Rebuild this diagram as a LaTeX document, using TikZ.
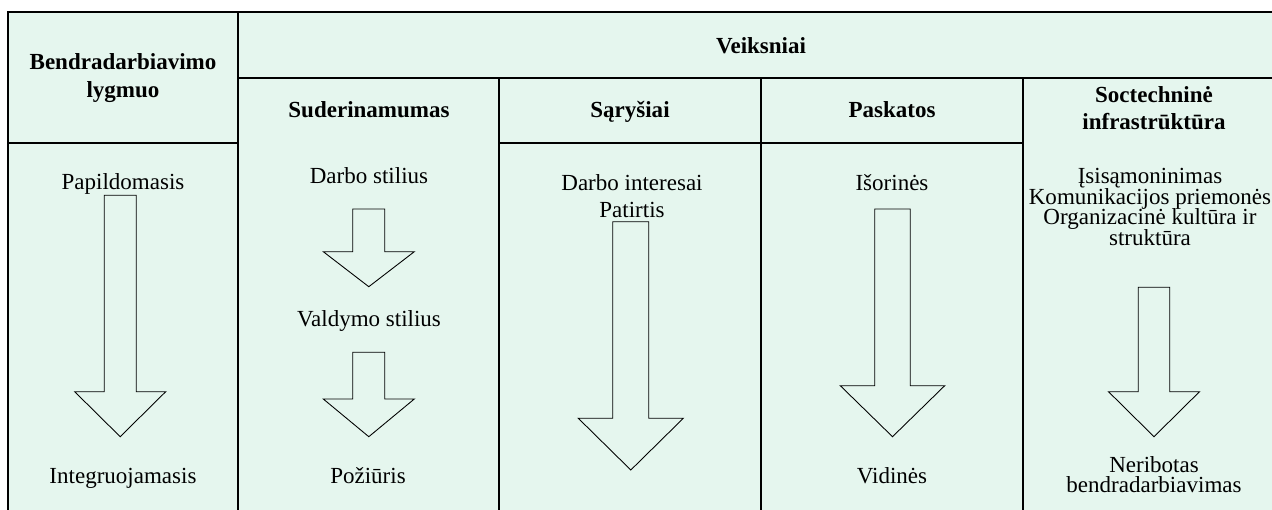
\documentclass[tikz,border=0pt]{standalone}
\usepackage{fontspec}
\setmainfont{Liberation Serif}
\usetikzlibrary{positioning}
\definecolor{cellbg}{RGB}{229,246,238}
\tikzset{
  every node/.style={text=black, font=\fontsize{13.1}{15.2}\selectfont, align=center, anchor=base, inner sep=0pt},
  grid/.style={draw=black, line width=0.7pt},
  colhead/.style={font=\bfseries\fontsize{13.1}{15.6}\selectfont},
  tight/.style={font={\fontsize{13.1}{11.6}\selectfont\lineskiplimit=-20pt}},
  blockarr/.style={draw=black, line width=0.5pt, line join=miter}
}
% block arrow: x, top, head base, tip, half shaft, half head
\newcommand{\blockarrow}[6]{%
  \draw[blockarr] ({#1-#5},#2) -- ({#1+#5},#2) -- ({#1+#5},#3) -- ({#1+#6},#3)
    -- (#1,#4) -- ({#1-#6},#3) -- ({#1-#5},#3) -- cycle;}

\begin{document}
\begin{tikzpicture}[x=0.02cm, y=-0.02cm]
  \useasboundingbox (0,0) rectangle (1272,510);
  % Table
  \fill[cellbg] (8,12) rectangle (1272,510);
  \draw[grid] (8,510) -- (8,12) -- (1272,12);
  \draw[grid] (238,12) -- (238,510);
  \draw[grid] (238,78) -- (1272,78);
  \draw[grid] (8,143) -- (238,143);
  \draw[grid] (499,143) -- (1023,143);
  \foreach \x in {499,761,1023}
    \draw[grid] (\x,78) -- (\x,510);

  % Headers (multi-line nodes sit on their last baseline)
  \node[colhead] (level) at (123,97.3) {Bendradarbiavimo\\lygmuo};
  \node[colhead] (factors) at (761,53.3) {Veiksniai};
  \node[colhead] (compat) at (369,118) {Suderinamumas};
  \node[colhead] (links) at (630,118) {Sąryšiai};
  \node[colhead] (incent) at (892,118) {Paskatos};
  \node[colhead] (infra) at (1154,130) {Soctechninė\\infrastrūktūra};

  % Nodes
  \node (suppl) at (123,190) {Papildomasis};
  \node (integr) at (123,483) {Integruojamasis};
  \node (workstyle) at (369,183.3) {Darbo stilius};
  \node (mgmtstyle) at (369,326.7) {Valdymo stilius};
  \node (attitude) at (368,483.3) {Požiūris};
  \node (interest) at (632,217.3) {Darbo interesai\\Patirtis};
  \node (outer) at (892,190.7) {Išorinės};
  \node (inner) at (892,483) {Vidinės};
  \node[tight] (aware) at (1150,245) {Įsisąmoninimas\\Komunikacijos priemonės\\Organizacinė kultūra ir\\struktūra};
  \node[tight] (unlim) at (1154,492.7) {Neribotas\\bendradarbiavimas};

  % Arrows
  \blockarrow{120.2}{195.3}{391.7}{436.7}{16}{45.5}
  \blockarrow{368.8}{209}{251.7}{286.7}{16}{45.5}
  \blockarrow{368.8}{352.3}{399}{436.7}{16}{45.5}
  \blockarrow{630.8}{221.7}{418.3}{470}{18}{52.5}
  \blockarrow{892.5}{209}{385.7}{436.7}{17.8}{52.2}
  \blockarrow{1154}{287.3}{391.7}{436.7}{15.7}{45.5}
\end{tikzpicture}
\end{document}
